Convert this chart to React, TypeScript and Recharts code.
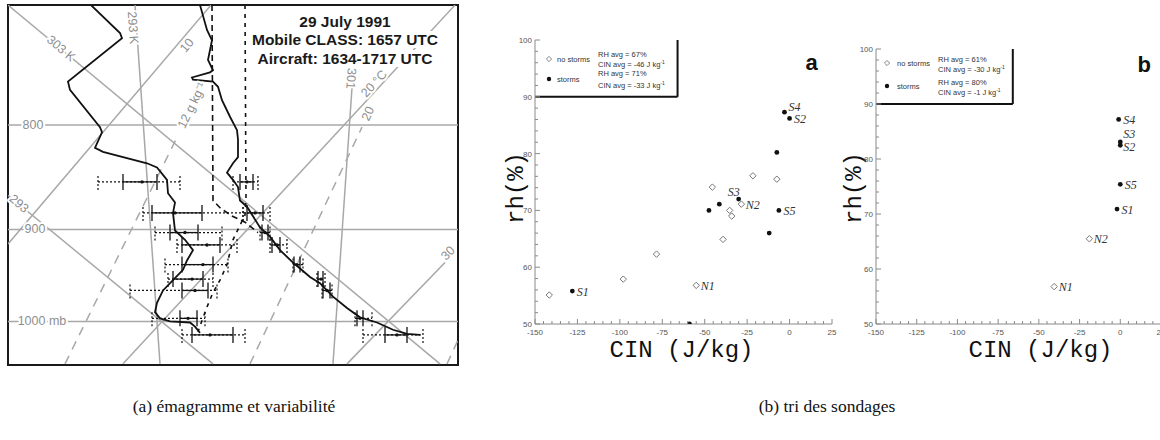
import React from 'react';
import {
  ComposedChart, ScatterChart, Scatter, Line, XAxis, YAxis,
  ReferenceLine, ReferenceArea, ReferenceDot, ErrorBar, LabelList,
} from 'recharts';

// ================= Panel (a): emagram, 29 July 1991 =================
// x: skewed-temperature position (diagram units, 0..450), z: height (km AGL)
const heightTicks = [0, 0.5, 1, 1.5, 2, 2.5, 3];
const heightLabelled = ['0.5', '1.5', '2.5'];

const isobarLevels = [2.05, 1.04, 0.15]; // 800, 900, 1000 mb

const dryAdiabats = [
  { name: '303 K', x1: 0, z1: 3.21, x2: 432, z2: -0.26 },
  { name: '293', x1: 0, z1: 1.37, x2: 205, z2: -0.26 },
];
const isotherms = [
  { name: '10', x1: 0, z1: 0.9, x2: 203, z2: 3.21 },
  { name: '20 °C', x1: 115, z1: -0.26, x2: 447, z2: 3.21 },
  { name: '30', x1: 339, z1: -0.26, x2: 437, z2: 0.72 },
];
const thetaELines = [
  { name: '293 K', x1: 127, z1: 3.21, x2: 152, z2: -0.26 },
  { name: '301', x1: 344, z1: 2.41, x2: 325, z2: -0.26 },
];
const mixingRatioLines = [
  { name: '12 g kg⁻¹', x1: 57, z1: -0.26, x2: 170, z2: 1.95 },
  { name: '20', x1: 242, z1: -0.26, x2: 354, z2: 2.03 },
  { name: '', x1: 439, z1: -0.26, x2: 450, z2: -0.03 },
];
const guideLabelSpots = [
  { text: '303 K', x: 53, z: 2.79, rot: 40 },
  { text: '293', x: 11, z: 1.29, rot: 40 },
  { text: '293 K', x: 125, z: 2.99, rot: 86 },
  { text: '301', x: 343, z: 2.5, rot: 94 },
  { text: '10', x: 179, z: 2.82, rot: -50 },
  { text: '20 °C', x: 366, z: 2.45, rot: -47 },
  { text: '30', x: 440, z: 0.81, rot: -45 },
  { text: '12 g kg⁻¹', x: 184, z: 2.24, rot: -64 },
  { text: '20', x: 360, z: 2.16, rot: -65 },
  { text: '800', x: 25, z: 2.05, rot: 0 },
  { text: '900', x: 27, z: 1.04, rot: 0 },
  { text: '1000 mb', x: 34, z: 0.15, rot: 0 },
];

const dewpointProfile = [
  { x: 83, z: 3.21 }, { x: 112, z: 2.94 }, { x: 114, z: 2.89 }, { x: 60, z: 2.47 },
  { x: 62, z: 2.39 }, { x: 92, z: 2.03 }, { x: 94, z: 1.98 }, { x: 87, z: 1.83 },
  { x: 95, z: 1.79 }, { x: 139, z: 1.68 }, { x: 149, z: 1.64 }, { x: 159, z: 1.52 },
  { x: 160, z: 1.39 }, { x: 167, z: 1.3 }, { x: 165, z: 1.2 }, { x: 167, z: 1.03 },
  { x: 177, z: 0.94 }, { x: 185, z: 0.84 }, { x: 179, z: 0.74 }, { x: 175, z: 0.65 },
  { x: 165, z: 0.55 }, { x: 155, z: 0.45 }, { x: 149, z: 0.33 }, { x: 147, z: 0.24 },
  { x: 152, z: 0.18 }, { x: 162, z: 0.15 }, { x: 182, z: 0.14 }, { x: 187, z: 0.1 },
  { x: 192, z: 0.04 },
];
const temperatureProfile = [
  { x: 192, z: 3.21 }, { x: 199, z: 2.97 }, { x: 204, z: 2.87 }, { x: 200, z: 2.68 },
  { x: 205, z: 2.58 }, { x: 202, z: 2.56 }, { x: 184, z: 2.51 }, { x: 185, z: 2.49 },
  { x: 205, z: 2.47 }, { x: 210, z: 2.42 }, { x: 214, z: 2.29 }, { x: 222, z: 2.13 },
  { x: 229, z: 2.0 }, { x: 230, z: 1.91 }, { x: 230, z: 1.74 }, { x: 225, z: 1.68 },
  { x: 219, z: 1.59 }, { x: 225, z: 1.52 }, { x: 230, z: 1.45 }, { x: 232, z: 1.32 },
  { x: 239, z: 1.26 }, { x: 252, z: 1.06 }, { x: 262, z: 0.97 }, { x: 272, z: 0.84 },
  { x: 285, z: 0.72 }, { x: 302, z: 0.58 }, { x: 312, z: 0.52 }, { x: 325, z: 0.39 },
  { x: 339, z: 0.28 }, { x: 352, z: 0.19 }, { x: 369, z: 0.14 }, { x: 385, z: 0.07 },
  { x: 399, z: 0.03 }, { x: 412, z: 0.02 },
];
const parcelLeft = [
  { x: 204, z: 3.21 }, { x: 205, z: 1.32 }, { x: 212, z: 1.25 }, { x: 224, z: 1.17 },
  { x: 237, z: 1.11 }, { x: 250, z: 1.01 },
];
const parcelRight = [
  { x: 237, z: 3.21 }, { x: 238, z: 1.32 }, { x: 237, z: 1.18 }, { x: 232, z: 1.08 },
  { x: 225, z: 0.94 }, { x: 219, z: 0.7 }, { x: 212, z: 0.55 }, { x: 205, z: 0.43 },
  { x: 199, z: 0.29 }, { x: 194, z: 0.16 }, { x: 190, z: 0.05 },
];

// aircraft variability: lo/hi = range (dotted), l2/h2 = std-dev (solid), mid = mean
const dewpointBars = [
  { z: 1.5, lo: 90, l2: 115, mid: 134, h2: 149, hi: 172 },
  { z: 1.2, lo: 135, l2: 144, mid: 167, h2: 194, hi: 235 },
  { z: 1.01, lo: 147, l2: 162, mid: 177, h2: 190, hi: 214 },
  { z: 0.89, lo: 169, l2: 174, mid: 199, h2: 212, hi: 229 },
  { z: 0.7, lo: 157, l2: 174, mid: 195, h2: 205, hi: 220 },
  { z: 0.56, lo: 160, l2: 165, mid: 184, h2: 195, hi: 205 },
  { z: 0.45, lo: 122, l2: 174, mid: 187, h2: 200, hi: 209 },
  { z: 0.18, lo: 144, l2: 172, mid: 180, h2: 189, hi: 197 },
  { z: 0.02, lo: 174, l2: 184, mid: 202, h2: 225, hi: 237 },
];
const temperatureBars = [
  { z: 1.5, lo: 225, l2: 232, mid: 239, h2: 245, hi: 250 },
  { z: 1.2, lo: 235, l2: 239, mid: 247, h2: 255, hi: 262 },
  { z: 1.01, lo: 252, l2: 254, mid: 257, h2: 260, hi: 262 },
  { z: 0.89, lo: 262, l2: 264, mid: 269, h2: 272, hi: 279 },
  { z: 0.7, lo: 285, l2: 286, mid: 289, h2: 292, hi: 295 },
  { z: 0.56, lo: 309, l2: 310, mid: 313, h2: 315, hi: 317 },
  { z: 0.45, lo: 314, l2: 315, mid: 319, h2: 322, hi: 324 },
  { z: 0.18, lo: 347, l2: 349, mid: 352, h2: 355, hi: 364 },
  { z: 0.02, lo: 355, l2: 377, mid: 389, h2: 399, hi: 415 },
];

// ================= Panel (b): CIN vs RH =================
const cinMajorStep = 25;
const rhMajorStep = 10;
const stormsA = [
  { cin: -128, rh: 55.8, name: 'S1' }, { cin: -3, rh: 87.3, name: 'S4' },
  { cin: 0, rh: 86.2, name: 'S2' }, { cin: -7.5, rh: 80.2 },
  { cin: -30, rh: 72, name: 'S3' }, { cin: -41.4, rh: 71.1 },
  { cin: -47.5, rh: 70 }, { cin: -6.3, rh: 70, name: 'S5' },
  { cin: -12, rh: 66 }, { cin: -59, rh: 50 },
];
const noStormsA = [
  { cin: -141.6, rh: 55.1 }, { cin: -98, rh: 57.9 }, { cin: -78.4, rh: 62.3 },
  { cin: -55, rh: 56.8, name: 'N1' }, { cin: -45.5, rh: 74.1 },
  { cin: -28.4, rh: 71.1, name: 'N2' }, { cin: -35.3, rh: 70 }, { cin: -34.1, rh: 69 },
  { cin: -39.2, rh: 64.9 }, { cin: -21.6, rh: 76.1 }, { cin: -7.5, rh: 75.5 },
];
const stormsB = [
  { cin: -1, rh: 87.2, name: 'S4' }, { cin: 0, rh: 83.1, name: 'S3' },
  { cin: 0, rh: 82.5, name: 'S2' }, { cin: 0, rh: 75.4, name: 'S5' },
  { cin: -2, rh: 70.9, name: 'S1' },
];
const noStormsB = [
  { cin: -19, rh: 65.5, name: 'N2' }, { cin: -40.6, rh: 56.8, name: 'N1' },
];
const avgRhA = [67, 71];
const avgCinA = [-46, -33];
const avgRhB = [61, 80];
const avgCinB = [-30, -1];
const legendCinEdge = -66;

// ---------------- helpers ----------------
const steps = (a: number, b: number, s: number) => {
  const out: number[] = [];
  for (let v = a; v <= b + 1e-9; v += s) out.push(Math.round(v * 100) / 100);
  return out;
};
const cinTicks = steps(-150, 25, 5);
const rhTicks = steps(50, 100, 2);

const sans = '"Liberation Sans", Arial, Helvetica, sans-serif';
const mono = '"Liberation Mono", "Courier New", monospace';
const serif = '"Liberation Serif", "Times New Roman", serif';
const guideGray = '#a8a8a8';
const axisGray = '#8a8a8a';

const toBarRows = (bars: typeof dewpointBars) =>
  bars.map((b) => ({
    x: b.mid, z: b.z,
    outer: [b.mid - b.lo, b.hi - b.mid],
    inner: [b.mid - b.l2, b.h2 - b.mid],
  }));

const vbCenter = (p: any) => {
  const vb = p.viewBox || p;
  return { cx: (vb.x ?? 0) + (vb.width ?? 0) / 2, cy: (vb.y ?? 0) + (vb.height ?? 0) / 2 };
};

const GuideLabel = (p: any) => {
  const { cx, cy } = vbCenter(p);
  return (
    <text x={cx} y={cy} transform={`rotate(${p.rot} ${cx} ${cy})`} textAnchor="middle"
      dominantBaseline="central" fontFamily={sans} fontSize={12.5} fill="#8e8e8e"
      stroke="#fff" strokeWidth={4} paintOrder="stroke" strokeLinejoin="round">{p.text}</text>
  );
};

const HeightTick = (p: any) => {
  const { x, y, payload } = p;
  const key = Number(payload.value).toFixed(1);
  const show = heightLabelled.includes(key);
  return (
    <g>
      <line x1={x} y1={y} x2={x + 7} y2={y} stroke="#111" strokeWidth={1.5} />
      {show && (
        <text x={x + 11} y={y + 5} fontFamily={sans} fontWeight="bold" fontSize={14} fill="#111">{key}</text>
      )}
      {show && key === '2.5' && (
        <text fontFamily={sans} fontWeight="bold" fontSize={11} fill="#111">
          <tspan x={x + 11} y={y + 14.5}>km</tspan>
          <tspan x={x + 11} y={y + 23.5}>AGL</tspan>
        </text>
      )}
    </g>
  );
};

const MidDot = (p: any) => <circle cx={p.cx} cy={p.cy} r={1.7} fill="#111" />;

const allGuides = [...dryAdiabats, ...isotherms, ...thetaELines];

const Emagram = () => (
  <ComposedChart width={452} height={362} margin={{ top: 1, right: 1, bottom: 1, left: 1 }}>
    <XAxis type="number" dataKey="x" domain={[0, 450]} allowDataOverflow hide />
    <YAxis type="number" dataKey="z" domain={[-0.271, 3.211]} allowDataOverflow width={0}
      ticks={heightTicks} interval={0} tickSize={0} tickMargin={0} tickLine={false}
      axisLine={false} tick={<HeightTick />} />
    {isobarLevels.map((z, i) => (
      <ReferenceLine key={'p' + i} y={z} stroke={guideGray} strokeWidth={1.5} ifOverflow="hidden" />
    ))}
    {allGuides.map((g, i) => (
      <ReferenceLine key={'g' + i} segment={[{ x: g.x1, y: g.z1 }, { x: g.x2, y: g.z2 }]}
        stroke={guideGray} strokeWidth={1.5} ifOverflow="hidden" />
    ))}
    {mixingRatioLines.map((g, i) => (
      <ReferenceLine key={'m' + i} segment={[{ x: g.x1, y: g.z1 }, { x: g.x2, y: g.z2 }]}
        stroke={guideGray} strokeWidth={1.5} strokeDasharray="9 7" ifOverflow="hidden" />
    ))}
    {guideLabelSpots.map((l, i) => (
      <ReferenceDot key={'l' + i} x={l.x} y={l.z} r={0} fill="none" stroke="none" ifOverflow="visible"
        label={<GuideLabel text={l.text} rot={l.rot} />} />
    ))}
    <Line data={parcelLeft} dataKey="z" stroke="#111" strokeWidth={1.6} strokeDasharray="6 4" dot={false} isAnimationActive={false} />
    <Line data={parcelRight} dataKey="z" stroke="#111" strokeWidth={1.6} strokeDasharray="4 5" dot={false} isAnimationActive={false} />
    <Line data={dewpointProfile} dataKey="z" stroke="#111" strokeWidth={1.8} dot={false} isAnimationActive={false} />
    <Line data={temperatureProfile} dataKey="z" stroke="#111" strokeWidth={1.8} dot={false} isAnimationActive={false} />
    <Scatter data={toBarRows(dewpointBars)} shape={MidDot} isAnimationActive={false}>
      <ErrorBar dataKey="outer" direction="x" width={8} stroke="#111" strokeWidth={1.2} strokeDasharray="2 2" />
      <ErrorBar dataKey="inner" direction="x" width={8} stroke="#111" strokeWidth={1.3} />
    </Scatter>
    <Scatter data={toBarRows(temperatureBars)} shape={MidDot} isAnimationActive={false}>
      <ErrorBar dataKey="outer" direction="x" width={8} stroke="#111" strokeWidth={1.2} strokeDasharray="2 2" />
      <ErrorBar dataKey="inner" direction="x" width={8} stroke="#111" strokeWidth={1.3} />
    </Scatter>
    <ReferenceArea x1={0} x2={450} y1={-0.271} y2={3.211} fill="none" fillOpacity={0}
      stroke="#1a1a1a" strokeWidth={2} ifOverflow="visible" />
  </ComposedChart>
);

// ---------------- scatter panels ----------------
const AxisTick = (p: any) => {
  const { x, y, payload, side, major } = p;
  const v = payload.value;
  const isMajor = Math.abs(v % major) < 1e-6;
  const len = isMajor ? 5 : 3;
  const st = { stroke: axisGray, strokeWidth: 1 };
  const tf = { fontFamily: sans, fontSize: 8, fill: '#555' };
  if (side === 'bottom')
    return (
      <g>
        <line x1={x} y1={y} x2={x} y2={y - len} {...st} />
        {isMajor && <text x={x} y={y + 11} textAnchor="middle" {...tf}>{v}</text>}
      </g>
    );
  if (side === 'top') return <line x1={x} y1={y} x2={x} y2={y + len} {...st} />;
  if (side === 'left')
    return (
      <g>
        <line x1={x} y1={y} x2={x + len} y2={y} {...st} />
        {isMajor && <text x={x - 3} y={y + 3} textAnchor="end" {...tf}>{v}</text>}
      </g>
    );
  return <line x1={x} y1={y} x2={x - len} y2={y} {...st} />;
};

const Diamond = (p: any) => {
  const s = 3.2;
  const { cx, cy } = p;
  return <path d={`M${cx},${cy - s}L${cx + s},${cy}L${cx},${cy + s}L${cx - s},${cy}Z`} fill="#fff" stroke="#777" strokeWidth={1} />;
};
const StormDot = (p: any) => <circle cx={p.cx} cy={p.cy} r={2.4} fill="#111" />;

const nameLabel = (place: Record<string, string>) => (p: any) => {
  const v = p.value;
  if (!v) return null;
  const { cx, cy } = vbCenter(p);
  const mode = place[v] || 'right';
  let tx = cx + 4.5;
  let ty = cy + 4.5;
  let anchor: 'start' | 'middle' = 'start';
  if (mode === 'above') { tx = cx - 5; ty = cy - 3; anchor = 'middle'; }
  if (mode === 'upright') { tx = cx + 4; ty = cy - 1; }
  if (mode === 'up') { tx = cx + 3; ty = cy - 4; }
  if (mode === 'down') { tx = cx + 3; ty = cy + 6; }
  return (
    <text x={tx} y={ty} textAnchor={anchor} fontFamily={serif} fontStyle="italic" fontSize={12} fill="#333">{v}</text>
  );
};

const YTitle = (p: any) => {
  const vb = p.viewBox;
  const cx = vb.x + p.dx;
  const cy = vb.y + vb.height / 2 + p.dy;
  return (
    <text x={cx} y={cy} transform={`rotate(-90 ${cx} ${cy})`} textAnchor="middle" dominantBaseline="central"
      fontFamily={mono} fontSize={24} fill="#111">rh(%)</text>
  );
};
const XTitle = (p: any) => {
  const vb = p.viewBox;
  return (
    <text x={vb.x + vb.width / 2 + p.shift} y={vb.y + 33} textAnchor="middle" fontFamily={mono} fontSize={24} fill="#111">CIN (J/kg)</text>
  );
};
const TopTitle = (p: any) => {
  const vb = p.viewBox;
  return <text x={vb.x + p.dx} y={vb.y - 5} textAnchor="middle" fontFamily={sans} fontSize={10} fill="#222">{p.text}</text>;
};
const Letter = (p: any) => {
  const { cx, cy } = vbCenter(p);
  return <text x={cx} y={cy} textAnchor="middle" dominantBaseline="central" fontFamily={sans} fontWeight="bold" fontSize={22} fill="#111">{p.text}</text>;
};

const LegendBox = (p: any) => {
  const { x, y } = p.viewBox;
  const L = p.layout;
  const f = { fontFamily: sans, fontSize: 7.5, fill: '#333' };
  const kg = (cin: number) => (
    <>CIN avg = {cin} J kg<tspan dy={-3} fontSize={5}>-1</tspan></>
  );
  const s = 2.6;
  const dx = x + L.symX;
  const dy = y + L.sym[0];
  return (
    <g>
      <path d={`M${dx},${dy - s}L${dx + s},${dy}L${dx},${dy + s}L${dx - s},${dy}Z`} fill="#fff" stroke="#777" strokeWidth={0.9} />
      <text x={x + L.nameX} y={y + L.sym[0] + 3} {...f}>no storms</text>
      <text x={x + L.statX} y={y + L.rows[0]} {...f}>RH avg = {p.avgRh[0]}%</text>
      <text x={x + L.statX} y={y + L.rows[1]} {...f}>{kg(p.avgCin[0])}</text>
      <circle cx={dx} cy={y + L.sym[1]} r={2.2} fill="#111" />
      <text x={x + L.nameX} y={y + L.sym[1] + 3} {...f}>storms</text>
      <text x={x + L.statX} y={y + L.rows[2]} {...f}>RH avg = {p.avgRh[1]}%</text>
      <text x={x + L.statX} y={y + L.rows[3]} {...f}>{kg(p.avgCin[1])}</text>
    </g>
  );
};

const CinPanel = (props: any) => {
  const { storms, noStorms, avgRh, avgCin, letter, letterAt, title, titleDx, layout, place,
    width, margin, xShift, yDx, yDy } = props;
  return (
    <ScatterChart width={width} height={350} margin={margin}>
      <XAxis type="number" dataKey="cin" domain={[-150, 25]} allowDataOverflow ticks={cinTicks} interval={0}
        height={46} tickSize={0} tickMargin={0} tickLine={false} axisLine={{ stroke: axisGray }}
        tick={<AxisTick side="bottom" major={cinMajorStep} />} label={<XTitle shift={xShift} />} />
      <XAxis xAxisId="top" orientation="top" type="number" domain={[-150, 25]} allowDataOverflow ticks={cinTicks}
        interval={0} height={0} tickSize={0} tickMargin={0} tickLine={false} axisLine={{ stroke: axisGray }}
        tick={<AxisTick side="top" major={cinMajorStep} />}
        label={title ? <TopTitle text={title} dx={titleDx} /> : undefined} />
      <YAxis type="number" dataKey="rh" domain={[50, 100]} allowDataOverflow ticks={rhTicks} interval={0}
        width={30} tickSize={0} tickMargin={0} tickLine={false} axisLine={{ stroke: axisGray }}
        tick={<AxisTick side="left" major={rhMajorStep} />} label={<YTitle dx={yDx} dy={yDy} />} />
      <YAxis yAxisId="right" orientation="right" type="number" domain={[50, 100]} allowDataOverflow ticks={rhTicks}
        interval={0} width={0} tickSize={0} tickMargin={0} tickLine={false} axisLine={{ stroke: axisGray }}
        tick={<AxisTick side="right" major={rhMajorStep} />} />
      <ReferenceArea x1={-150} x2={legendCinEdge} y1={90} y2={100} fill="none" fillOpacity={0} stroke="none"
        label={<LegendBox avgRh={avgRh} avgCin={avgCin} layout={layout} />} />
      <ReferenceLine segment={[{ x: legendCinEdge, y: 90 }, { x: legendCinEdge, y: 100 }]} stroke="#111" strokeWidth={2} />
      <ReferenceLine segment={[{ x: -150, y: 90 }, { x: legendCinEdge, y: 90 }]} stroke="#111" strokeWidth={2} />
      <Scatter data={noStorms} shape={Diamond} isAnimationActive={false}>
        <LabelList dataKey="name" content={nameLabel(place)} />
      </Scatter>
      <Scatter data={storms} shape={StormDot} isAnimationActive={false}>
        <LabelList dataKey="name" content={nameLabel(place)} />
      </Scatter>
      <ReferenceDot x={letterAt[0]} y={letterAt[1]} r={0} fill="none" stroke="none" label={<Letter text={letter} />} />
    </ScatterChart>
  );
};

export default function App() {
  const hdr = { background: '#fff', padding: '0 1px' };
  return (
    <div style={{ position: 'absolute', left: 0, top: 0, width: 1160, height: 440, overflow: 'hidden', background: '#fff' }}>
      <div style={{ position: 'absolute', left: 7, top: 4 }}>
        <Emagram />
      </div>
      <div style={{
        position: 'absolute', left: 215, top: 12.5, width: 260, textAlign: 'center', whiteSpace: 'nowrap',
        fontFamily: sans, fontWeight: 'bold', fontSize: 15.5, lineHeight: '18.5px', color: '#1a1a1a',
      }}>
        <span style={hdr}>29 July 1991</span><br />
        <span style={hdr}>Mobile CLASS: 1657 UTC</span><br />
        <span style={hdr}>Aircraft: 1634-1717 UTC</span>
      </div>
      <div style={{ position: 'absolute', left: 470, top: 20 }}>
        <CinPanel storms={stormsA} noStorms={noStormsA} avgRh={avgRhA} avgCin={avgCinA}
          letter="a" letterAt={[13, 96]} place={{ S3: 'above', S4: 'upright' }}
          layout={{ symX: 14, nameX: 22, statX: 63, sym: [19, 39], rows: [17, 27, 36, 48] }}
          width={380} margin={{ top: 20, right: 18, left: 35, bottom: 0 }} xShift={-2} yDx={11} yDy={6} />
      </div>
      <div style={{ position: 'absolute', left: 830, top: 20 }}>
        <CinPanel storms={stormsB} noStorms={noStormsB} avgRh={avgRhB} avgCin={avgCinB}
          letter="b" letterAt={[14.7, 97.1]} place={{ S3: 'up', S2: 'down' }}
          title="Modified with aircraft data" titleDx={140}
          layout={{ symX: 11, nameX: 21, statX: 62, sym: [14, 37], rows: [13, 23, 36, 46] }}
          width={340} margin={{ top: 29, right: 9, left: 16, bottom: 0 }} xShift={22} yDx={8} yDy={1.5} />
      </div>
      <div style={{ position: 'absolute', left: 0, top: 396, width: 468, textAlign: 'center', fontFamily: serif, fontSize: 17.5, lineHeight: '20px', color: '#111' }}>
        (a) émagramme et variabilité
      </div>
      <div style={{ position: 'absolute', left: 627, top: 396, width: 400, textAlign: 'center', fontFamily: serif, fontSize: 17.5, lineHeight: '20px', color: '#111' }}>
        (b) tri des sondages
      </div>
    </div>
  );
}
